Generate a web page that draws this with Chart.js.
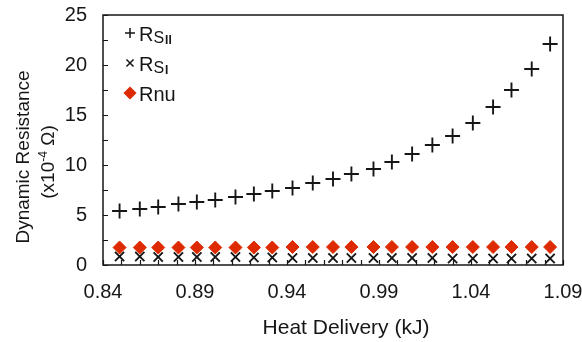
<!DOCTYPE html>
<html>
<head>
<meta charset="utf-8">
<script src="https://cdn.jsdelivr.net/npm/chart.js@4.4.0/dist/chart.umd.min.js"></script>
<style>
  html, body { margin: 0; padding: 0; background: #fff; }
  #wrap { width: 582px; height: 342px; }
</style>
</head>
<body>
<div id="wrap"><canvas id="chart" width="582" height="342"></canvas></div>
<script>
// Values
const heatDelivery = [0.849, 0.860, 0.870, 0.881, 0.891, 0.901, 0.912, 0.922, 0.932, 0.943, 0.954, 0.965,
  0.975, 0.987, 0.997, 1.008, 1.019, 1.030, 1.041, 1.052, 1.062, 1.073, 1.083];
const rsParallel = [5.4, 5.6, 5.8, 6.1, 6.3, 6.5, 6.8, 7.1, 7.4, 7.7, 8.2, 8.6,
  9.1, 9.6, 10.3, 11.1, 12.0, 12.9, 14.2, 15.8, 17.5, 19.6, 22.1];
const rsPerp = [0.85, 0.85, 0.8, 0.8, 0.8, 0.8, 0.8, 0.75, 0.75, 0.7, 0.7, 0.7,
  0.7, 0.7, 0.7, 0.7, 0.7, 0.65, 0.65, 0.65, 0.65, 0.65, 0.65];
const rnu = [1.75, 1.75, 1.75, 1.75, 1.75, 1.75, 1.75, 1.75, 1.75, 1.8, 1.8, 1.8,
  1.8, 1.8, 1.8, 1.8, 1.8, 1.8, 1.8, 1.8, 1.8, 1.8, 1.8];

const xTicks = [0.84, 0.89, 0.94, 0.99, 1.04, 1.09];
const xMinorStep = 0.01;
const yTicks = [0, 5, 10, 15, 20, 25];
const yMinorStep = 2.5;

const FONT = "'Liberation Sans', Arial, sans-serif";
const INK = '#161616';
const RED = '#dd2a00';

const toPoints = (ys) => ys.map((y, i) => ({ x: heatDelivery[i], y }));

// Legend entries: main letter, subscript parts
const legendItems = [
  { main: 'R', sub: 'S', sub2: 'II', style: 'cross', radius: 5, color: INK, fill: INK },
  { main: 'R', sub: 'S', sub2: 'I', style: 'crossRot', radius: 5, color: INK, fill: INK },
  { main: 'Rnu', sub: '', sub2: '', style: 'rectRot', radius: 5.5, color: RED, fill: RED },
];

const framePlugin = {
  id: 'frame',
  afterDraw(chart) {
    const { ctx, scales } = chart;
    const xs = scales.x, ys = scales.y;
    const left = xs.getPixelForValue(xTicks[0]);
    const right = xs.getPixelForValue(xTicks[xTicks.length - 1]);
    const top = ys.getPixelForValue(yTicks[yTicks.length - 1]);
    const bottom = ys.getPixelForValue(yTicks[0]);
    ctx.save();
    ctx.strokeStyle = INK;
    ctx.lineWidth = 1.5;
    ctx.strokeRect(left, top, right - left, bottom - top);

    // inner tick marks
    ctx.lineWidth = 1.2;
    ctx.beginPath();
    for (let v = 0; v <= 25.001; v += yMinorStep) {
      const y = Math.round(ys.getPixelForValue(v)) + 0.5;
      ctx.moveTo(left, y);
      ctx.lineTo(left + 5, y);
    }
    for (let k = 0; k <= 25; k++) {
      const x = Math.round(xs.getPixelForValue(0.84 + k * xMinorStep)) + 0.5;
      ctx.moveTo(x, bottom);
      ctx.lineTo(x, bottom - 5);
    }
    ctx.stroke();

    // axis titles
    ctx.fillStyle = INK;
    ctx.textAlign = 'center';
    ctx.textBaseline = 'middle';
    ctx.font = '21px ' + FONT;
    ctx.fillText('Heat Delivery (kJ)', 346, 328);

    ctx.save();
    ctx.translate(24, 157);
    ctx.rotate(-Math.PI / 2);
    ctx.font = '19px ' + FONT;
    ctx.fillText('Dynamic Resistance', 0, 0);
    ctx.restore();
    ctx.save();
    ctx.translate(49, 162);
    ctx.rotate(-Math.PI / 2);
    ctx.font = '19px ' + FONT;
    const p1 = '(x10', sup = '-4', p2 = ' \u03A9)';
    ctx.textAlign = 'left';
    const w1 = ctx.measureText(p1).width, w3 = ctx.measureText(p2).width;
    ctx.font = '12px ' + FONT;
    const w2 = ctx.measureText(sup).width;
    let x0 = -(w1 + w2 + w3) / 2;
    ctx.font = '19px ' + FONT;
    ctx.fillText(p1, x0, 0);
    ctx.font = '12px ' + FONT;
    ctx.fillText(sup, x0 + w1, -5);
    ctx.font = '19px ' + FONT;
    ctx.fillText(p2, x0 + w1 + w2, 0);
    ctx.restore();

    // legend
    legendItems.forEach((it, i) => {
      const base = 41 + i * 30;
      ctx.strokeStyle = it.color;
      ctx.fillStyle = it.fill;
      ctx.lineWidth = 1.5;
      Chart.helpers.drawPoint(ctx, { pointStyle: it.style, radius: it.radius, borderWidth: 1.5 }, 130, base - 8);
      ctx.fillStyle = INK;
      ctx.textAlign = 'left';
      ctx.textBaseline = 'alphabetic';
      ctx.font = '20px ' + FONT;
      let x = 139;
      ctx.fillText(it.main, x, base);
      x += ctx.measureText(it.main).width;
      if (it.sub) {
        ctx.font = '16px ' + FONT;
        ctx.fillText(it.sub, x, base + 2);
        x += ctx.measureText(it.sub).width + 1;
        ctx.font = 'bold 12px ' + FONT;
        ctx.fillText(it.sub2, x, base + 3);
      }
    });
    ctx.restore();
  }
};

new Chart(document.getElementById('chart'), {
  type: 'scatter',
  data: {
    datasets: [
      {
        label: 'Rs||',
        data: toPoints(rsParallel),
        pointStyle: 'cross',
        pointRadius: 7.5,
        borderColor: INK,
        borderWidth: 1.9,
      },
      {
        label: 'Rs|',
        data: toPoints(rsPerp),
        pointStyle: 'crossRot',
        pointRadius: 6.5,
        borderColor: INK,
        borderWidth: 1.9,
      },
      {
        label: 'Rnu',
        data: toPoints(rnu),
        pointStyle: 'rectRot',
        pointRadius: 6.5,
        borderColor: RED,
        backgroundColor: RED,
        borderWidth: 1,
      },
    ],
  },
  options: {
    responsive: false,
    animation: false,
    devicePixelRatio: 1,
    layout: { autoPadding: false, padding: { top: 15, right: 19, left: 0, bottom: 0 } },
    plugins: {
      legend: { display: false },
      tooltip: { enabled: false },
    },
    scales: {
      x: {
        type: 'linear',
        min: 0.84,
        max: 1.09,
        afterBuildTicks: (s) => { s.ticks = xTicks.map((v) => ({ value: v })); },
        afterFit: (s) => { s.height = 77; s.paddingLeft = 0; s.paddingRight = 0; },
        grid: { display: false, drawTicks: false },
        border: { display: false },
        ticks: {
          autoSkip: false,
          maxRotation: 0,
          padding: 15,
          color: INK,
          font: { family: FONT, size: 20 },
          callback: (v) => Number(v).toFixed(2),
        },
      },
      y: {
        min: 0,
        max: 25,
        afterBuildTicks: (s) => { s.ticks = yTicks.map((v) => ({ value: v })); },
        afterFit: (s) => { s.width = 103; s.paddingTop = 0; s.paddingBottom = 0; },
        grid: { display: false, drawTicks: false },
        border: { display: false },
        ticks: {
          padding: 16,
          color: INK,
          font: { family: FONT, size: 20 },
        },
      },
    },
  },
  plugins: [framePlugin],
});
</script>
</body>
</html>
